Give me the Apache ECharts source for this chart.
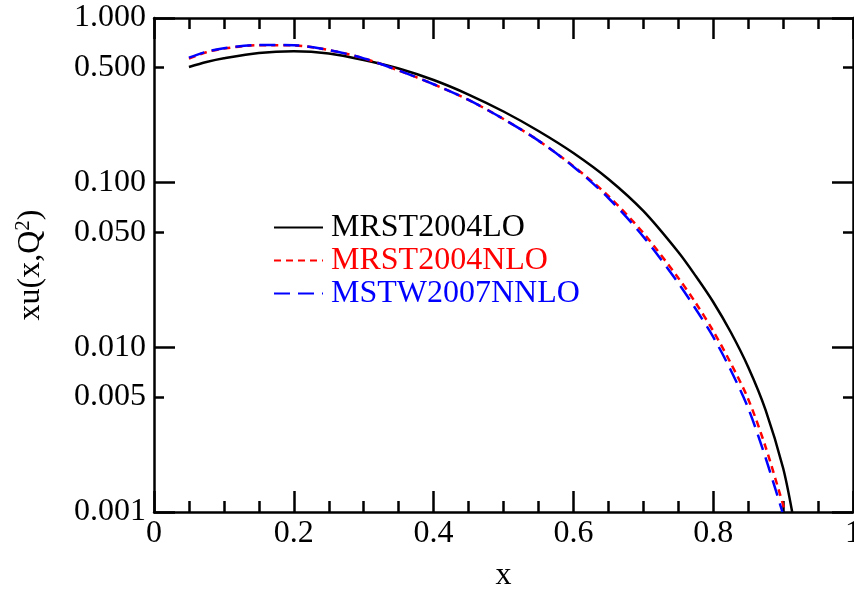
<!DOCTYPE html>
<html><head><meta charset="utf-8">
<script src="https://cdn.jsdelivr.net/npm/echarts@6/dist/echarts.min.js"></script>
<style>html,body{margin:0;padding:0;background:#fff}#c{width:854px;height:594px}</style>
</head><body><div id="c"></div>
<script>
// x values (momentum fraction)
const xLO   = [0.05,0.075,0.1,0.15,0.2,0.25,0.3,0.35,0.4,0.45,0.5,0.55,0.6,0.65,0.7,0.75,0.775,0.8,0.825,0.85,0.875,0.9,0.913];
const yLO   = [0.504,0.540,0.569,0.613,0.628,0.609,0.556,0.4935,0.420,0.3430,0.2705,0.2060,0.1514,0.1053,0.0673,0.0379,0.0271,0.01885,0.01239,0.00760,0.00416,0.00185,0.001];
const xNLO  = [0.05,0.075,0.1,0.15,0.2,0.25,0.3,0.35,0.4,0.45,0.5,0.55,0.6,0.65,0.7,0.75,0.775,0.8,0.825,0.85,0.875,0.903];
const yNLO  = [0.567,0.620,0.652,0.684,0.682,0.639,0.569,0.480,0.396,0.318,0.2435,0.180,0.126,0.083,0.0495,0.0264,0.0186,0.01257,0.00803,0.00486,0.00248,0.001];
const xNNLO = [0.05,0.075,0.1,0.15,0.2,0.25,0.3,0.35,0.4,0.45,0.5,0.55,0.6,0.65,0.7,0.75,0.775,0.8,0.825,0.85,0.875,0.899];
const yNNLO = [0.574,0.624,0.655,0.686,0.683,0.639,0.569,0.480,0.396,0.318,0.2435,0.180,0.125,0.0807,0.0470,0.0246,0.01709,0.01156,0.00729,0.00428,0.00213,0.001];
const seriesNames = ['MRST2004LO','MRST2004NLO','MSTW2007NNLO'];
const yMajorTicks = [0.001,0.01,0.1,1];
const yMinorTicks = [0.005,0.05,0.5];
const yTickLabels = [0.001,0.005,0.01,0.05,0.1,0.5,1];

const FONT = 'Liberation Serif';
const pairs = (xs, ys) => xs.map((x, i) => [x, ys[i]]);
const chart = echarts.init(document.getElementById('c'), null, {renderer:'canvas'});

const axLine = {show:true, lineStyle:{color:'#000', width:2.5}};
function xAx(pos, labels){
  return {
    type:'value', position:pos, min:0, max:1, interval:0.2,
    axisLine:axLine,
    axisTick:{show:true, inside:true, length:21, lineStyle:{color:'#000', width:2.5}},
    minorTick:{show:true, splitNumber:4, length:11, lineStyle:{color:'#000', width:2.5}},
    splitLine:{show:false},
    axisLabel:{show:labels, margin:6, fontFamily:FONT, fontSize:32, color:'#000',
      formatter: v => (v === 0 ? '0' : (Math.abs(v-1) < 1e-9 ? '1' : v.toFixed(1)))},
    name: labels ? 'x' : '', nameLocation:'middle', nameGap:48,
    nameTextStyle:{fontFamily:FONT, fontSize:32, color:'#000'}
  };
}
function yAx(pos, major, labels){
  const o = {
    type:'log', logBase:10, position:pos, min:0.001, max:1,
    axisLine: major ? axLine : {show:false},
    axisTick:{show:true, inside:true, length: major ? 21 : 10, customValues: major ? yMajorTicks : yMinorTicks,
      lineStyle:{color:'#000', width:2.5}},
    splitLine:{show:false},
    axisLabel:{show:labels, margin:8, fontFamily:FONT, fontSize:32, color:'#000',
      customValues: yTickLabels, formatter: v => Number(v).toFixed(3)},
  };
  if (labels) {
    o.name = 'xu(x,Q{sup|2})';
    o.nameLocation = 'middle';
    o.nameGap = 106;
    o.nameTextStyle = {fontFamily:FONT, fontSize:32, color:'#000',
      rich:{sup:{fontFamily:FONT, fontSize:21, color:'#000', verticalAlign:'bottom', padding:[0,0,14,0]}}};
  }
  return o;
}

chart.setOption({
  animation:false,
  backgroundColor:'#fff',
  grid:{left:154, right:1, top:18, bottom:82, containLabel:false, outerBoundsMode:'none'},
  xAxis:[xAx('bottom', true), xAx('top', false)],
  yAxis:[yAx('left', true, true), yAx('left', false, false), yAx('right', true, false), yAx('right', false, false)],
  legend:{
    orient:'vertical', left:273, top:211, padding:0, itemWidth:49, itemHeight:20, itemGap:0,
    itemStyle:{opacity:0},
    textStyle:{fontFamily:FONT, fontSize:32, lineHeight:33, padding:[0,0,0,3]},
    data:[
      {name:seriesNames[0], textStyle:{color:'#000'}},
      {name:seriesNames[1], textStyle:{color:'#ff0000'}},
      {name:seriesNames[2], textStyle:{color:'#0000ff'}}
    ]
  },
  series:[
    {name:seriesNames[0], type:'line', data:pairs(xLO,yLO), showSymbol:false, symbol:'none', smooth:0.3,
      lineStyle:{color:'#000', width:2.5, type:'solid'}, itemStyle:{color:'#000'}},
    {name:seriesNames[1], type:'line', data:pairs(xNLO,yNLO), showSymbol:false, symbol:'none', smooth:0.3,
      lineStyle:{color:'#ff0000', width:2.5, type:[7,5]}, itemStyle:{color:'#ff0000'}},
    {name:seriesNames[2], type:'line', data:pairs(xNNLO,yNNLO), showSymbol:false, symbol:'none', smooth:0.3,
      lineStyle:{color:'#0000ff', width:2.5, type:[16,8]}, itemStyle:{color:'#0000ff'}}
  ]
});
</script></body></html>
